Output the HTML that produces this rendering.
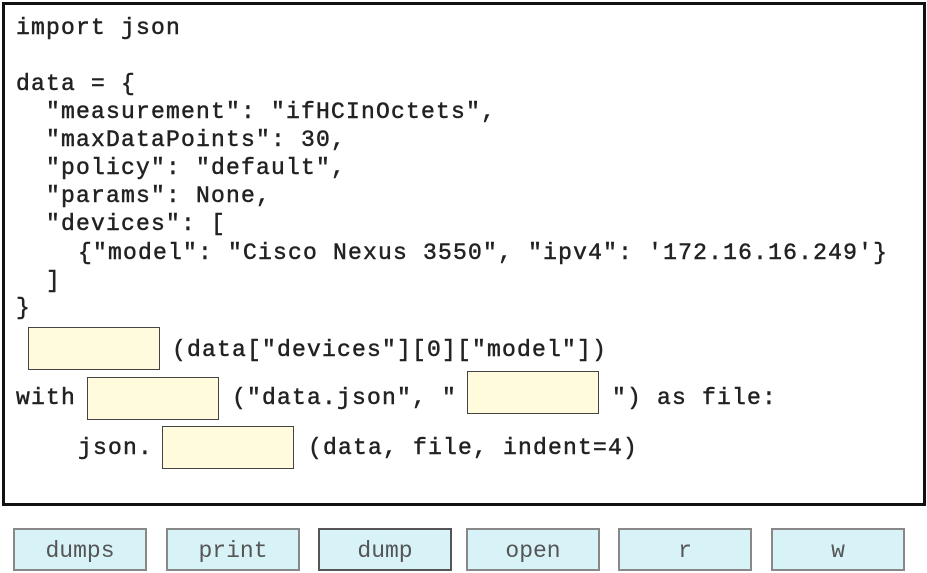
<!DOCTYPE html>
<html><head><style>
body{margin:0;width:927px;height:573px;background:#fff;position:relative;overflow:hidden;font-family:"Liberation Mono",monospace;}
.frame{position:absolute;left:2px;top:2px;width:918px;height:498px;border:3px solid #111;}
.l{position:absolute;font-size:23px;letter-spacing:1.2px;color:#222;white-space:pre;line-height:26px;-webkit-text-stroke:0.5px #222;}
.b{position:absolute;width:132px;height:43px;background:#fffbdc;border:1.5px solid #444;box-sizing:border-box;}
.btn{position:absolute;top:528px;height:43px;width:134px;background:#d8f3f8;border:2px solid #888;box-sizing:border-box;font-family:"Liberation Mono",monospace;font-size:23px;color:#555;text-align:center;line-height:42px;}
</style></head><body>
<div class="frame"></div>
<div class="l" style="left:16px;top:15px">import json</div>
<div class="l" style="left:16px;top:71px">data = {</div>
<div class="l" style="left:46px;top:99px">"measurement": "ifHCInOctets",</div>
<div class="l" style="left:46px;top:127px">"maxDataPoints": 30,</div>
<div class="l" style="left:46px;top:155px">"policy": "default",</div>
<div class="l" style="left:46px;top:183px">"params": None,</div>
<div class="l" style="left:46px;top:211px">"devices": [</div>
<div class="l" style="left:78px;top:240px">{"model": "Cisco Nexus 3550", "ipv4": '172.16.16.249'}</div>
<div class="l" style="left:46px;top:268px">]</div>
<div class="l" style="left:16px;top:295px">}</div>
<div class="b" style="left:28px;top:327px"></div>
<div class="l" style="left:172px;top:337px">(data["devices"][0]["model"])</div>
<div class="l" style="left:16px;top:385px">with</div>
<div class="b" style="left:87px;top:377px"></div>
<div class="l" style="left:232px;top:385px">("data.json", "</div>
<div class="b" style="left:467px;top:371px"></div>
<div class="l" style="left:612px;top:385px">") as file:</div>
<div class="l" style="left:78px;top:435px">json.</div>
<div class="b" style="left:162px;top:426px"></div>
<div class="l" style="left:308px;top:435px">(data, file, indent=4)</div>
<div class="btn" style="left:13px">dumps</div>
<div class="btn" style="left:166px">print</div>
<div class="btn" style="left:318px;border-color:#555">dump</div>
<div class="btn" style="left:466px">open</div>
<div class="btn" style="left:618px">r</div>
<div class="btn" style="left:771px">w</div>
</body></html>
